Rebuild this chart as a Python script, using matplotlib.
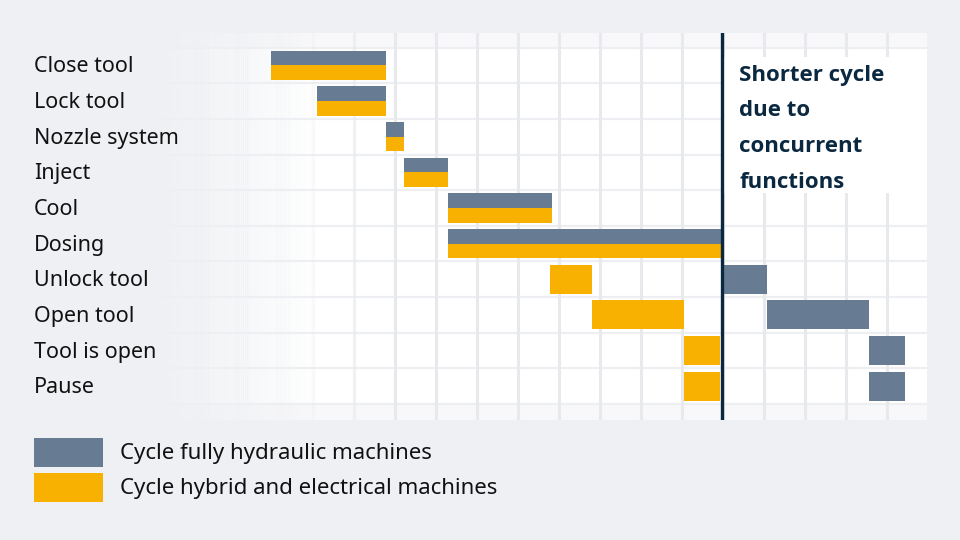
import numpy as np
import matplotlib.pyplot as plt
from matplotlib.patches import Rectangle

plt.rcParams['font.family'] = ['Noto Sans', 'DejaVu Sans']

# data (time in grid units, one grid cell = one unit)
tasks = ["Close tool", "Lock tool", "Nozzle system", "Inject", "Cool",
         "Dosing", "Unlock tool", "Open tool", "Tool is open", "Pause"]
hyd_start = [2.98, 4.10, 5.78, 6.22, 7.29, 7.29, 14.00, 15.07, 17.56, 17.56]
hyd_end = [5.78, 5.78, 6.22, 7.29, 9.83, 13.95, 15.07, 17.56, 18.44, 18.44]
hyb_start = [2.98, 4.10, 5.78, 6.22, 7.29, 7.29, 9.78, 10.80, 13.05, 13.05]
hyb_end = [5.78, 5.78, 6.22, 7.29, 9.83, 13.95, 10.80, 13.05, 13.93, 13.93]
cycle_end = 13.98
legend_labels = ["Cycle fully hydraulic machines", "Cycle hybrid and electrical machines"]
note_lines = ["Shorter cycle", "due to", "concurrent", "functions"]

bg = '#eef0f3'
c_hyd = '#677c93'
c_hyb = '#f8b100'
c_grid = '#e7e9ec'
c_navy = '#0b2841'

W, H = 960, 540
fig = plt.figure(figsize=(9.6, 5.4), dpi=100, facecolor=bg)

# axes covers chart area: t=0 at x=149px, 41px per unit
x0_px, unit = 149, 41.0
xmax = (927 - x0_px) / unit
ax = fig.add_axes([x0_px / W, 1 - 420 / H, (927 - x0_px) / W, (420 - 33) / H])
ax.set_xlim(0, xmax)
ax.set_ylim(9.95, -0.91)
ax.set_facecolor(bg)
ax.axis('off')

n = len(tasks)
# white cells: rows plus fainter top/bottom strips
ax.axhspan(-0.91, 9.95, color='white', alpha=0.6, zorder=0, lw=0)
ax.axhspan(-0.48, 9.48, color='white', zorder=0.1, lw=0)
for i in range(-1, n):
    ax.axhline(i + 0.5, color='#edeff2', lw=1.6, zorder=1)

# left fade back to background, drawn as thin strips
edges = np.linspace(0, 5.0, 101)
for a, b in zip(edges[:-1], edges[1:]):
    m = (a + b) / 2
    al = np.clip(1 - (m - 0.25) / 3.8, 0, 1) ** 0.9
    ax.add_patch(Rectangle((a, -0.91), b - a + 0.01, 10.86, facecolor=bg,
                           edgecolor='none', alpha=al, zorder=2))

# vertical grid lines, fading in towards the left
for g in range(1, 19):
    ga = float(np.clip((g - 3.5) / 2.5, 0, 1))
    if ga > 0:
        ax.axvline(g, color=c_grid, lw=2.2, zorder=2.2, alpha=ga)

# white box behind the note
ax.add_patch(Rectangle((cycle_end, -0.25), xmax - cycle_end, 3.83,
                       facecolor='white', edgecolor='none', zorder=2.5))

# bars
h = 0.41
for i in range(n):
    shared = hyd_start[i] == hyb_start[i]
    if shared:
        ax.barh(i - h / 2, hyd_end[i] - hyd_start[i], left=hyd_start[i], height=h,
                color=c_hyd, zorder=3)
        ax.barh(i + h / 2, hyb_end[i] - hyb_start[i], left=hyb_start[i], height=h,
                color=c_hyb, zorder=3)
    else:
        ax.barh(i, hyd_end[i] - hyd_start[i], left=hyd_start[i], height=2 * h,
                color=c_hyd, zorder=3)
        ax.barh(i, hyb_end[i] - hyb_start[i], left=hyb_start[i], height=2 * h,
                color=c_hyb, zorder=3)

ax.axvline(cycle_end, color=c_navy, lw=2.4, zorder=4)
for k, line in enumerate(note_lines):
    fig.text(739 / W, 1 - (75 + 36 * k) / H, line, color=c_navy, fontsize=16,
             fontweight='bold', family=['Open Sans', 'DejaVu Sans'],
             va='center', ha='left', zorder=5)

# task labels
for i, t in enumerate(tasks):
    ax.text(34 / W, 1 - (67 + 35.65 * i) / H, t, transform=fig.transFigure,
            fontsize=15.5, va='center', ha='left', color='#111111')

# legend
for k, (lab, col) in enumerate(zip(legend_labels, [c_hyd, c_hyb])):
    ytop = 438 + 35 * k
    fig.add_artist(Rectangle((34 / W, 1 - (ytop + 29) / H), 69 / W, 29 / H,
                             transform=fig.transFigure, facecolor=col, edgecolor='none'))
    fig.text(120 / W, 1 - (ytop + 15.5) / H, lab, fontsize=16, va='center', ha='left',
             color='#111111')

fig.savefig('out.png', dpi=100, facecolor=bg)
